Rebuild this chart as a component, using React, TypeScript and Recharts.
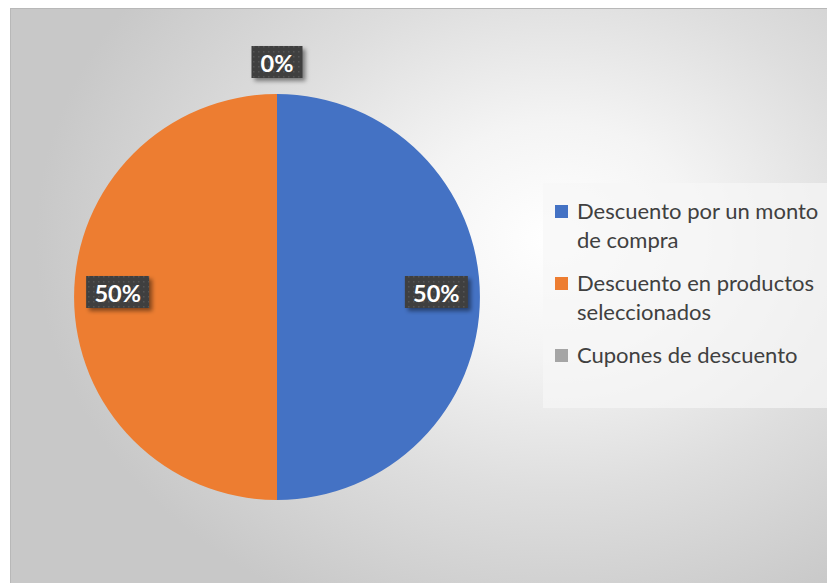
import { PieChart, Pie, Cell, Legend } from 'recharts'

const categories = ['Descuento por un monto de compra', 'Descuento en productos seleccionados', 'Cupones de descuento']
const shares = [50, 50, 0]
const legendLines = [['Descuento por un monto', 'de compra'], ['Descuento en productos', 'seleccionados'], ['Cupones de descuento']]
const colors = ['#4472C4', '#ED7D31', '#A5A5A5']

const data = categories.map((name, i) => ({ name, value: shares[i] }))

const RAD = Math.PI / 180

function DataLabel(props: any) {
  const { cx, cy, midAngle, outerRadius, percent, index } = props
  const outside = percent === 0
  const r = outside ? outerRadius + 32 : outerRadius * 0.785
  const x = cx + r * Math.cos(-midAngle * RAD)
  const y = cy + r * Math.sin(-midAngle * RAD) - (outside ? 0 : 5)
  const text = `${Math.round(percent * 100)}%`
  const w = outside ? 51 : 63
  const h = 32
  return (
    <g>
      <defs>
        <pattern id={`dots-${index}`} width="5" height="5" patternUnits="userSpaceOnUse">
          <rect width="5" height="5" fill="#3f3f3f" />
          <rect x="2" y="2" width="1.5" height="1.5" fill="#555555" />
        </pattern>
        <filter id={`sh-${index}`} x="-20%" y="-30%" width="150%" height="180%">
          <feGaussianBlur stdDeviation="2" />
        </filter>
      </defs>
      <rect x={x - w / 2 + 3} y={y - h / 2 + 3} width={w} height={h} fill="rgba(0,0,0,0.45)" filter={`url(#sh-${index})`} />
      <rect x={x - w / 2} y={y - h / 2} width={w} height={h} fill={`url(#dots-${index})`} />
      <text x={x} y={y + 1} fill="#ffffff" textAnchor="middle" dominantBaseline="central" fontFamily="Lato, 'Noto Sans', sans-serif" fontWeight={700} fontSize={23.5}>
        {text}
      </text>
    </g>
  )
}

function LegendBox() {
  return (
    <div style={{ width: 290, height: 225, background: 'rgba(246,246,246,0.7)', boxSizing: 'border-box', padding: '13px 0 0 12px', fontFamily: "Lato, 'Noto Sans', sans-serif", fontSize: 22, color: '#404040' }}>
      {legendLines.map((lines, i) => (
        <div key={i} style={{ display: 'flex', alignItems: 'flex-start', marginBottom: 14 }}>
          <span style={{ width: 13, height: 13, background: colors[i], marginTop: 9, marginRight: 9, flexShrink: 0 }} />
          <div style={{ lineHeight: '29px', whiteSpace: 'nowrap' }}>
            {lines.map((l, j) => (
              <div key={j}>{l}</div>
            ))}
          </div>
        </div>
      ))}
    </div>
  )
}

export default function App() {
  return (
    <div style={{ marginLeft: 2, width: 825, height: 575, borderTop: '1px solid #b8b8b8', borderLeft: '1px solid #b8b8b8', boxSizing: 'border-box', background: 'radial-gradient(ellipse 70% 80% at 66% 40%, #ffffff 0%, #f4f4f4 25%, #dedede 55%, #c8c8c8 90%)' }}>
      <PieChart width={824} height={574} margin={{ top: 0, right: 0, bottom: 0, left: 0 }}>
        <Pie
          data={data}
          dataKey="value"
          nameKey="name"
          cx={266}
          cy={288}
          outerRadius={203}
          startAngle={90}
          endAngle={-270}
          stroke="none"
          label={DataLabel}
          labelLine={false}
          isAnimationActive={false}
        >
          {data.map((d, i) => (
            <Cell key={d.name} fill={colors[i]} />
          ))}
        </Pie>
        <Legend content={() => <LegendBox />} wrapperStyle={{ left: 532, top: 174, width: 290, height: 225 }} />
      </PieChart>
    </div>
  )
}
